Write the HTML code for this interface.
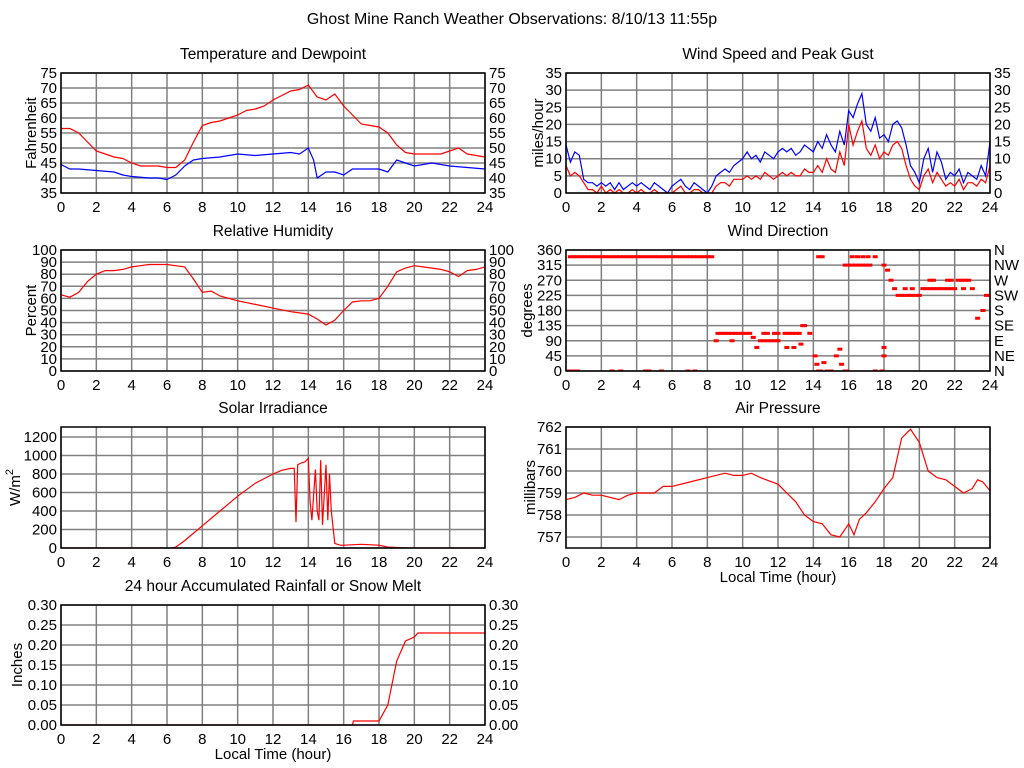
<!DOCTYPE html>
<html><head><meta charset="utf-8"><style>
body{margin:0;background:#fff;width:1024px;height:768px;overflow:hidden}
svg{display:block}
text{font-family:"Liberation Sans",Arial,sans-serif;fill:#000}
</style></head><body>
<svg id="c" width="1024" height="768">
<text x="512" y="24" text-anchor="middle" font-size="16">Ghost Mine Ranch Weather Observations: 8/10/13 11:55p</text>
</svg>
<script>
// ---- data ----
const tempTimes=[0,0.5,1,1.5,2,2.5,3,3.5,4,4.5,5,5.5,6,6.5,7,7.5,8,8.5,9,9.5,10,10.5,11,11.5,12,12.5,13,13.5,14,14.5,15,15.5,16,16.5,17,17.5,18,18.5,19,19.5,20,20.5,21,21.5,22,22.5,23,23.5,24];
const tempVals=[56.5,56.5,55,52,49,48,47,46.5,45,44,44,44,43.5,43.5,46,52,57.5,58.5,59,60,61,62.5,63,64,66,67.5,69,69.5,71,67,66,68,64,61,58,57.5,57,55,51,48.5,48,48,48,48,49,50,48,47.5,47];
const dewTimes=[0,0.5,1,2,3,3.5,4,5,5.5,6,6.5,7,7.5,8,9,10,11,12,13,13.5,14,14.3,14.5,15,15.5,16,16.5,17,17.5,18,18.5,19,19.5,20,21,22,23,24];
const dewVals=[44.5,43,43,42.5,42,41,40.5,40,40,39.5,41,44,46,46.5,47,48,47.5,48,48.5,48,50,46,40,42,42,41,43,43,43,43,42,46,45,44,45,44,43.5,43];
const rhTimes=[0,0.5,1,1.5,2,2.5,3,3.5,4,4.5,5,5.5,6,6.5,7,7.5,8,8.5,9,10,11,12,13,13.5,14,14.5,15,15.5,16,16.5,17,17.5,18,18.5,19,19.5,20,20.5,21,21.5,22,22.5,23,23.5,24];
const rhVals=[63,61,65,74,80,83,83,84,86,87,88,88,88,87,86,76,65,66,62,58,55,52,49,48,47,43,38,42,50,57,58,58,60,70,82,85,87,86,85,84,82,78,83,84,86];
const solarTimes=[0,6.3,6.5,7,8,9,10,11,12,12.5,13,13.2,13.3,13.4,13.6,13.8,14,14.1,14.2,14.4,14.5,14.6,14.7,14.8,15,15.1,15.2,15.3,15.5,15.8,16,17,18,18.5,19,19.5,24];
const solarVals=[0,0,10,80,240,400,560,700,800,840,860,860,280,900,920,930,970,500,300,850,400,300,950,250,900,300,800,400,50,30,30,40,30,10,5,0,0];
const rainTimes=[0,16.5,16.55,18,18.5,19,19.5,20,20.2,24];
const rainVals=[0,0,0.01,0.01,0.05,0.16,0.21,0.22,0.23,0.23];
const presTimes=[0,0.5,1,1.5,2,3,3.5,4,5,5.5,6,7,8,9,9.5,10,10.5,11,12,12.5,13,13.5,14,14.5,15,15.5,16,16.3,16.6,17,17.5,18,18.5,19,19.5,20,20.5,21,21.5,22,22.5,23,23.3,23.6,24];
const presVals=[758.7,758.8,759.0,758.9,758.9,758.7,758.9,759.0,759.0,759.3,759.3,759.5,759.7,759.9,759.8,759.8,759.9,759.7,759.4,759.0,758.6,758.0,757.7,757.6,757.1,757.0,757.6,757.1,757.8,758.1,758.6,759.2,759.7,761.5,761.9,761.3,760.0,759.7,759.6,759.3,759.0,759.2,759.6,759.5,759.1];
// wind at 0.25 h intervals
const gustVals=[14,9,12,11,4,3,3,2,3,2,3,1,3,1,2,3,2,3,2,1,3,2,1,0,2,3,4,2,1,3,2,1,0,2,5,6,7,6,8,9,10,12,10,11,9,12,11,10,12,13,12,13,11,12,14,13,12,15,13,17,14,12,18,14,24,22,26,29,20,18,22,16,17,15,20,21,19,14,8,6,3,10,13,6,12,9,4,6,5,7,3,6,5,4,8,5,15];
const avgVals=[8,5,6,5,3,1,1,0,2,0,1,0,1,0,0,1,0,1,0,0,1,0,0,0,0,1,2,0,0,1,1,0,0,0,2,3,3,2,4,4,4,5,4,5,4,6,5,4,5,6,5,6,5,5,7,6,6,8,6,10,7,6,12,8,20,14,18,21,13,11,14,10,12,11,14,15,13,8,4,2,1,5,7,3,6,4,2,3,2,4,1,3,3,2,4,3,8];
const dirTimes=[0.05,0.2,0.35,0.5,0.65,0.25,0.45,0.65,0.85,1.05,1.25,1.45,1.65,1.85,2.05,2.25,2.45,2.65,2.85,3.05,3.25,3.45,3.65,3.85,4.05,4.25,4.45,4.65,4.85,5.05,5.25,5.45,5.65,5.85,6.05,6.25,6.45,6.65,6.85,7.05,7.25,7.45,7.65,7.85,8.05,8.25,2.6,3.1,4.5,4.7,5.4,6.9,7.3,8.5,8.6,8.8,9.0,9.2,9.4,9.6,9.8,10.0,10.2,10.4,9.4,10.6,10.8,11.0,11.2,11.4,11.6,11.8,12.0,11.2,11.4,11.8,12.0,12.4,12.6,12.8,13.0,13.2,13.4,12.5,12.9,13.3,13.5,13.8,14.1,14.2,14.3,14.4,14.6,14.8,15.0,14.3,14.5,15.3,15.5,15.6,15.8,15.9,15.8,16.0,16.2,16.4,16.6,16.8,17.0,17.2,16.2,16.5,16.8,17.1,17.5,17.5,17.9,18.0,18.0,18.0,18.2,18.4,18.6,18.8,19.0,19.2,19.4,19.6,19.8,20.0,19.2,19.6,20.2,20.4,20.6,20.8,21.0,21.2,21.4,21.6,21.8,20.6,20.8,21.6,21.8,22.2,22.4,22.6,22.8,22.0,22.5,23.0,23.3,23.6,23.8,24.0];
const dirVals=[0,0,0,0,0,340,340,340,340,340,340,340,340,340,340,340,340,340,340,340,340,340,340,340,340,340,340,340,340,340,340,340,340,340,340,340,340,340,340,340,340,340,340,340,340,340,0,0,0,0,0,0,0,90,112,112,112,112,112,112,112,112,112,112,90,100,70,90,90,90,90,90,90,112,112,112,112,112,112,112,112,112,135,70,70,80,135,112,45,20,0,0,25,0,0,340,340,45,65,20,0,0,315,315,315,315,315,315,315,315,340,340,340,340,340,0,0,45,70,315,300,270,245,225,225,225,225,225,225,225,245,245,245,245,245,245,245,245,245,245,245,270,270,270,270,270,270,270,270,245,245,245,157,180,225,225];
const hourTicks=[0,2,4,6,8,10,12,14,16,18,20,22,24];

const svg=document.getElementById('c');
const NS='http://www.w3.org/2000/svg';
function mk(tag,attrs,parent){const e=document.createElementNS(NS,tag);for(const k in attrs)e.setAttribute(k,attrs[k]);(parent||svg).appendChild(e);return e;}
function txt(x,y,s,anchor,size,parent){const t=mk('text',{x:x,y:y,'text-anchor':anchor||'middle','font-size':size||15},parent);t.textContent=s;return t;}

function panel(o){
  const g=mk('g',{});
  
  
  const sx=t=>o.x0+(t/24)*(o.x1-o.x0);
  const sy=v=>o.y1-(v-o.ymin)/(o.ymax-o.ymin)*(o.y1-o.y0);
  hourTicks.forEach(h=>{mk('line',{x1:sx(h),x2:sx(h),y1:o.y0,y2:o.y1,stroke:'#808080','stroke-width':1.5},g);});
  o.ticks.forEach(v=>{mk('line',{x1:o.x0,x2:o.x1,y1:sy(v),y2:sy(v),stroke:'#808080','stroke-width':1.5},g);});
  o.ticks.forEach((v,i)=>{
    const l=txt(o.x0-4,sy(v)+5,o.labels[i],'end',15,g);
    
    
    if(o.rlabels){const r=txt(o.x1+4,sy(v)+5,o.rlabels[i],'start',15,g);
      
      }
  });
  hourTicks.forEach(h=>{const l=txt(sx(h),o.y1+19,String(h),'middle',15,g);
    
    });
  const tt=txt((o.x0+o.x1)/2,o.y0-14,o.title,'middle',15.5,g);
  
  
  const yl=mk('text',{transform:`translate(${o.ylx},${(o.y0+o.y1)/2}) rotate(-90)`,'text-anchor':'middle','font-size':15},g);
  yl.innerHTML=o.ylabel;
  
  
  if(o.xlabel){const xl=txt((o.x0+o.x1)/2,o.y1+34,'Local Time (hour)','middle',15,g);
    
    }
  const clip=mk('clipPath',{id:'cp'+o.name},g);
  mk('rect',{x:o.x0,y:o.y0,width:o.x1-o.x0,height:o.y1-o.y0},clip);
  const data=mk('g',{'clip-path':`url(#cp${o.name})`},g);
  (o.series||[]).forEach(s=>{
    const p=mk('polyline',{fill:'none',stroke:s.color,'stroke-width':1.2,points:s.t.map((t,i)=>sx(t).toFixed(1)+','+sy(s.v[i]).toFixed(1)).join(' ')},data);
    
    
  });
  if(o.points){o.points.t.forEach((t,i)=>{
    const r=mk('rect',{x:sx(t)-2.5,y:sy(o.points.v[i])-1.5,width:5,height:3,fill:'#f00'},data);
    
    
  });}
  const b=mk('rect',{x:o.x0,y:o.y0,width:o.x1-o.x0,height:o.y1-o.y0,fill:'none',stroke:'#000','stroke-width':1.5},g);
  
  
}
const windT=gustVals.map((v,i)=>i*0.25);
const L=[61,485],R=[566,990];
const r1=[73,193],r2=[250,371],r3=[427,548],r4=[605,725];
const tT=[35,40,45,50,55,60,65,70,75];
panel({name:'temperature-panel',x0:L[0],x1:L[1],y0:r1[0],y1:r1[1],ymin:35,ymax:75,ticks:tT,labels:tT.map(String),rlabels:tT.map(String),title:'Temperature and Dewpoint',ylabel:'Fahrenheit',ylx:36,
  series:[{name:'temperature-line',t:tempTimes,v:tempVals,color:'#f00'},{name:'dewpoint-line',t:dewTimes,v:dewVals,color:'#00f'}]});
const wT=[0,5,10,15,20,25,30,35];
panel({name:'wind-speed-panel',x0:R[0],x1:R[1],y0:r1[0],y1:r1[1],ymin:0,ymax:35,ticks:wT,labels:wT.map(String),rlabels:wT.map(String),title:'Wind Speed and Peak Gust',ylabel:'miles/hour',ylx:543,
  series:[{name:'peak-gust-line',t:windT,v:gustVals,color:'#00f'},{name:'wind-speed-line',t:windT,v:avgVals,color:'#f00'}]});
const hT=[0,10,20,30,40,50,60,70,80,90,100];
panel({name:'humidity-panel',x0:L[0],x1:L[1],y0:r2[0],y1:r2[1],ymin:0,ymax:100,ticks:hT,labels:hT.map(String),rlabels:hT.map(String),title:'Relative Humidity',ylabel:'Percent',ylx:36,
  series:[{name:'humidity-line',t:rhTimes,v:rhVals,color:'#f00'}]});
const dT=[0,45,90,135,180,225,270,315,360];
panel({name:'wind-direction-panel',x0:R[0],x1:R[1],y0:r2[0],y1:r2[1],ymin:0,ymax:360,ticks:dT,labels:dT.map(String),rlabels:['N','NE','E','SE','S','SW','W','NW','N'],title:'Wind Direction',ylabel:'degrees',ylx:532,
  points:{t:dirTimes,v:dirVals}});
const sT=[0,200,400,600,800,1000,1200];
panel({name:'solar-panel',x0:L[0],x1:L[1],y0:r3[0],y1:r3[1],ymin:0,ymax:1308,ticks:sT,labels:sT.map(String),title:'Solar Irradiance',ylabel:'W/m<tspan dy="-7" font-size="11">2</tspan>',ylx:20,
  series:[{name:'solar-line',t:solarTimes,v:solarVals,color:'#f00'}]});
const pT=[757,758,759,760,761,762];
panel({name:'pressure-panel',x0:R[0],x1:R[1],y0:r3[0],y1:r3[1],ymin:756.5,ymax:762.0,ticks:pT,labels:pT.map(String),title:'Air Pressure',ylabel:'millibars',ylx:535,xlabel:true,
  series:[{name:'pressure-line',t:presTimes,v:presVals,color:'#f00'}]});
const rT=[0,0.05,0.10,0.15,0.20,0.25,0.30];
panel({name:'rainfall-panel',x0:L[0],x1:L[1],y0:r4[0],y1:r4[1],ymin:0,ymax:0.30,ticks:rT,labels:rT.map(v=>v.toFixed(2)),rlabels:rT.map(v=>v.toFixed(2)),title:'24 hour Accumulated Rainfall or Snow Melt',ylabel:'Inches',ylx:22,xlabel:true,
  series:[{name:'rainfall-line',t:rainTimes,v:rainVals,color:'#f00'}]});
</script>
</body></html>
